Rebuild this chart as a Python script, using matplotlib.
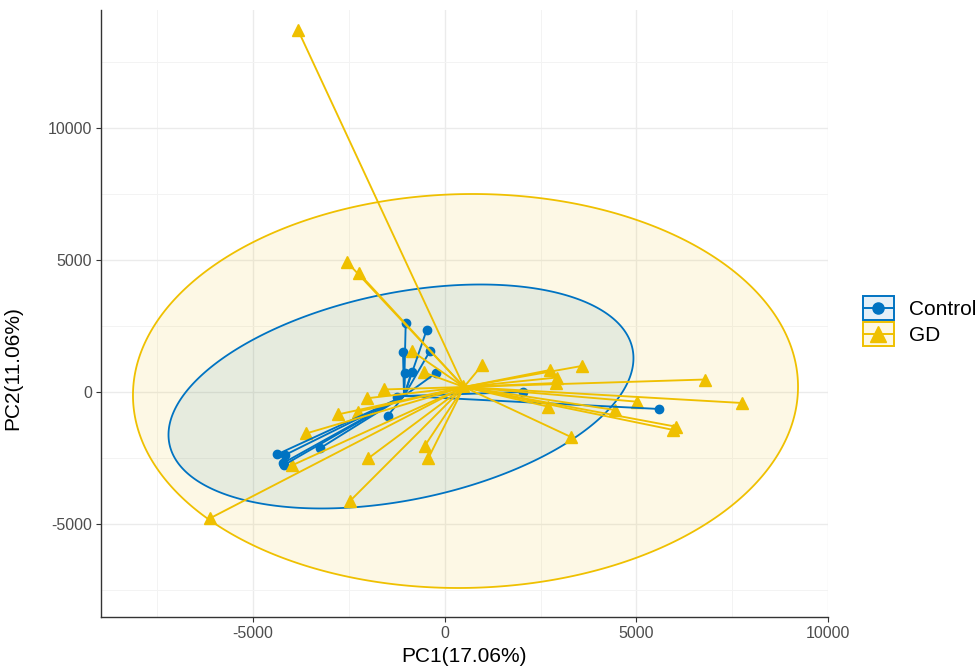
import numpy as np
import matplotlib
matplotlib.use("Agg")
import matplotlib.pyplot as plt
from matplotlib.legend_handler import HandlerBase
from matplotlib.patches import Rectangle, Polygon
from matplotlib.lines import Line2D
from matplotlib.colors import to_rgba

plt.rcParams['font.family'] = ['Liberation Sans', 'DejaVu Sans']
plt.rcParams['axes.unicode_minus'] = False

# ---------------- data ----------------
groups = ["Control", "GD"]
colors = ["#0073C2", "#EFC000"]

control_pc1 = [-1017, -470, -1088, -383, -861, -227, -1036, -1487, -3253, -4367,
               -4166, -4226, -4192, 5598, 2043, -1244]
control_pc2 = [2602, 2348, 1515, 1553, 769, 720, 708, -898, -2133, -2360,
               -2386, -2701, -2765, -644, 0, -189]

gd_pc1 = [-3827, -2557, -2236, -861, 981, -540, -1584, -2035, -2791, -2270,
          -3618, -3991, -514, -428, -1993, -2470, -6123, 2747, 3574, 2930,
          2917, 2703, 3295, 6790, 7769, 5017, 4443, 6034, 5969, 477]
gd_pc2 = [13712, 4936, 4496, 1553, 1023, 739, 95, -239, -852, -746,
          -1572, -2784, -2027, -2511, -2511, -4129, -4784, 833, 985, 549,
          341, -557, -1705, 473, -417, -367, -682, -1314, -1439, 227]

# group centroids (where the star segments meet)
centroid_pc1 = [-1062, 503]
centroid_pc2 = [-152, 189]

# 95% ellipses (centre and covariance-like terms)
ellipse_c1 = [-1140, 543]
ellipse_c2 = [-170, 38]
ellipse_sxx = [6065.0 ** 2, 8675.0 ** 2]
ellipse_syy = [4242.0 ** 2, 7462.0 ** 2]
ellipse_sxy = [8.8e6, 1.4e6]

xticks = [-5000, 0, 5000, 10000]
yticks = [-5000, 0, 5000, 10000]
xlabel = "PC1(17.06%)"
ylabel = "PC2(11.06%)"

# ---------------- figure ----------------
W, H = 979, 669
fig = plt.figure(figsize=(W / 100, H / 100), dpi=100)
ax = fig.add_axes([101 / W, 52 / H, (828 - 101) / W, (659 - 52) / H])

ax.set_xlim(-8966, 10000)
ax.set_ylim(-8523, 14470)

# grid
ax.set_xticks(xticks)
ax.set_yticks(yticks)
ax.set_xticks([-7500, -2500, 2500, 7500], minor=True)
ax.set_yticks([-7500, -2500, 2500, 7500, 12500], minor=True)
ax.grid(True, which='major', color='#EBEBEB', lw=1.0)
ax.grid(True, which='minor', color='#F3F3F3', lw=0.7)
ax.set_axisbelow(True)
ax.tick_params(which='minor', length=0)
ax.tick_params(which='major', length=3.5, width=0.8, color='#333333',
               labelcolor='#4D4D4D', labelsize=11.5, pad=3)

for s in ['top', 'right']:
    ax.spines[s].set_visible(False)
for s in ['left', 'bottom']:
    ax.spines[s].set_color('#333333')
    ax.spines[s].set_linewidth(1.0)

ax.set_xlabel(xlabel, fontsize=15, labelpad=4)
ax.set_ylabel(ylabel, fontsize=15)
ax.yaxis.set_label_coords(-0.108, 0.41)

pcs = [(control_pc1, control_pc2), (gd_pc1, gd_pc2)]
markers = ['o', '^']
msizes = [6, 8]

# ellipses
t = np.linspace(0, 2 * np.pi, 400, endpoint=False)
curves = []
for i in range(2):
    cov = np.array([[ellipse_sxx[i], ellipse_sxy[i]], [ellipse_sxy[i], ellipse_syy[i]]])
    L = np.linalg.cholesky(cov)
    pts = L @ np.vstack([np.cos(t), np.sin(t)])
    curves.append(np.column_stack([ellipse_c1[i] + pts[0], ellipse_c2[i] + pts[1]]))
for i in range(2):
    ax.add_patch(Polygon(curves[i], closed=True, facecolor=to_rgba(colors[i], 0.1),
                         edgecolor='none', zorder=1))
for i in range(2):
    ax.add_patch(Polygon(curves[i], closed=True, facecolor='none',
                         edgecolor=colors[i], lw=1.3, zorder=2))

# points
for i in range(2):
    x, y = pcs[i]
    ax.plot(x, y, ls='none', marker=markers[i], ms=msizes[i], color=colors[i],
            mec=colors[i], zorder=3)

# star segments
for i in range(2):
    x, y = pcs[i]
    for xx, yy in zip(x, y):
        ax.plot([centroid_pc1[i], xx], [centroid_pc2[i], yy], color=colors[i],
                lw=1.35, zorder=4 + i, solid_capstyle='butt')


# legend
class KeyHandler(HandlerBase):
    def __init__(self, color, marker, ms):
        super().__init__()
        self.color, self.marker, self.ms = color, marker, ms

    def create_artists(self, legend, orig_handle, xdescent, ydescent, width,
                       height, fontsize, trans):
        x0, y0 = -xdescent, -ydescent
        rect = Rectangle((x0 + 1, y0 + 1), width - 2, height - 2,
                         facecolor=to_rgba(self.color, 0.1), edgecolor=self.color,
                         lw=1.4, transform=trans)
        ln = Line2D([x0 + 1, x0 + width - 1], [y0 + height / 2] * 2, color=self.color,
                    lw=1.4, transform=trans)
        mk = Line2D([x0 + width / 2], [y0 + height / 2], marker=self.marker,
                    ms=self.ms, color=self.color, ls='none', transform=trans)
        return [rect, ln, mk]


h_ctrl = Line2D([], [])
h_gd = Line2D([], [])
fs = 15
fig.legend([h_ctrl, h_gd], groups,
           handler_map={h_ctrl: KeyHandler(colors[0], 'o', 8),
                        h_gd: KeyHandler(colors[1], '^', 11)},
           loc='center left', bbox_to_anchor=(862 / W, 1 - 321 / H),
           frameon=False, fontsize=fs, handlelength=33 / (fs * 1.389),
           handleheight=33 / (fs * 1.389),
           labelspacing=0.0, handletextpad=0.65, borderpad=0, borderaxespad=0)

fig.savefig("out.png", dpi=100)
